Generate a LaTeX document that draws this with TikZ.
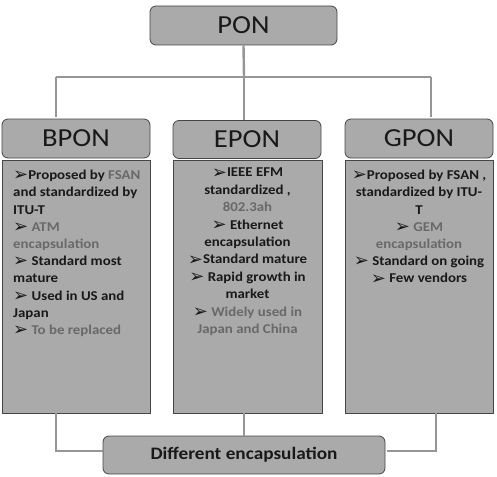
\documentclass[tikz,border=0pt]{standalone}
\usepackage{fontspec}
\setmainfont[FakeStretch=1.1]{Carlito}
\newfontfamily\arrowfont{DejaVu Sans}
\definecolor{boxfill}{RGB}{170,170,170}
\definecolor{boxline}{RGB}{70,70,70}
\definecolor{linkgray}{RGB}{150,150,150}
\definecolor{txtdark}{RGB}{25,25,25}
\definecolor{txtlight}{RGB}{105,105,105}
\newcommand{\arr}{{\arrowfont\fontsize{18}{12}\selectfont\raisebox{-1.2pt}{➢}}}
\newcommand{\lt}[1]{\textcolor{txtlight}{#1}}
\tikzset{
  header/.style={draw=boxline, line width=0.8pt, fill=boxfill, rounded corners=6pt,
    inner sep=0pt, font=\fontsize{26}{28}\selectfont, text=txtdark},
  content/.style={draw=boxline, line width=0.8pt, fill=boxfill, inner sep=0pt},
  bodytext/.style={inner sep=0pt, font=\bfseries\fontsize{13.5}{17.2}\selectfont, text=txtdark, anchor=north},
  link/.style={draw=linkgray, line width=2.4pt},
}
\begin{document}
\begin{tikzpicture}[x=1pt,y=-1pt]
\useasboundingbox (0,0) rectangle (497,476);
% headers
\node[header, minimum width=187pt, minimum height=39pt] (pon) at (243.5,25.5) {PON};
% content boxes
\node[content, minimum width=148pt, minimum height=253pt] (bbox) at (76,286.5) {};
\node[content, minimum width=149pt, minimum height=253pt] (ebox) at (247.5,286.5) {};
\node[content, minimum width=148pt, minimum height=253pt] (gbox) at (419,286.5) {};
\node[header, minimum width=148pt, minimum height=39pt] (bpon) at (76,138.5) {BPON};
\node[header, minimum width=148pt, minimum height=38pt] (epon) at (247,139.5) {EPON};
\node[header, minimum width=148pt, minimum height=39pt] (gpon) at (419,138.5) {GPON};
\node[header, minimum width=282pt, minimum height=38pt, font=\bfseries\fontsize{17.5}{20}\selectfont] (diff) at (244,455) {Different encapsulation};
% connectors
\coordinate (hl) at (56,77);
\coordinate (hr) at (431,77);
\coordinate (hm) at (244,77);
\draw[link] (pon.south) -- (hm);
\draw[link] (hl) -- (hr);
\draw[link] (hl) -- (56,117);
\draw[link] (hr) -- (431,117);
\draw[link] (hm) -- (epon.north -| hm);
\coordinate (bl) at (56,451);
\coordinate (br) at (436,451);
\draw[link] (bbox.south -| bl) -- (bl) -- (diff.west |- bl);
\draw[link] (gbox.south -| br) -- (br) -- ([xshift=2pt]diff.east |- br);
\draw[link] (ebox.south -| hm) -- (diff.north -| hm);
% texts
\node[bodytext, anchor=north west, align=left] (btxt) at (13,170) {%
\arr Proposed by \lt{FSAN}\\
and standardized by\\
ITU-T\\
\arr\ \lt{ATM}\\
\lt{encapsulation}\\
\arr\ Standard most\\
mature\\
\arr\ Used in US and\\
Japan\\
\arr\ \lt{To be replaced}};
\node[bodytext, align=center, font=\bfseries\fontsize{13.5}{17.4}\selectfont] (etxt) at (247.5,168) {%
\arr IEEE EFM\\
standardized ,\\
\lt{802.3ah}\\
\arr\ Ethernet\\
encapsulation\\
\arr Standard mature\\
\arr\ Rapid growth in\\
market\\
\arr\ \lt{Widely used in}\\
\lt{Japan and China}};
\node[bodytext, align=center] (gtxt) at (419,170) {%
\arr Proposed by FSAN ,\\
standardized by ITU-\\
T\\
\arr\ \lt{GEM}\\
\lt{encapsulation}\\
\arr\ Standard on going\\
\arr\ Few vendors};
\end{tikzpicture}
\end{document}
